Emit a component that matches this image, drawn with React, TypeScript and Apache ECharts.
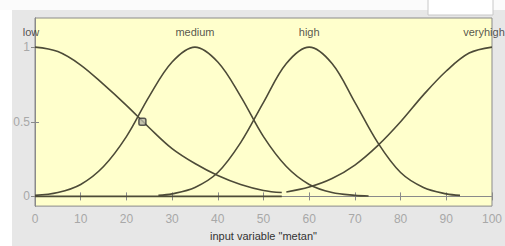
import React, { useEffect, useRef } from "react";
import * as echarts from "echarts";

const lowX = [0, 5, 10, 15, 20, 25, 30, 35, 40, 45, 50, 54];
const lowY = [1, 0.97, 0.88, 0.75, 0.61, 0.46, 0.32, 0.22, 0.14, 0.08, 0.04, 0.026];
const medX = [0, 5, 10, 15, 20, 25, 30, 35, 40, 45, 50, 55, 60, 65, 70, 73];
const medY = [0.007, 0.026, 0.08, 0.2, 0.4, 0.67, 0.9, 1, 0.9, 0.67, 0.4, 0.2, 0.08, 0.026, 0.007, 0.003];
const highX = [27, 30, 35, 40, 45, 50, 55, 60, 65, 70, 75, 80, 85, 90, 93];
const highY = [0.007, 0.017, 0.06, 0.16, 0.36, 0.63, 0.89, 1, 0.89, 0.63, 0.36, 0.16, 0.06, 0.017, 0.007];
const vhX = [55, 60, 65, 70, 75, 80, 85, 90, 95, 100];
const vhY = [0.03, 0.063, 0.12, 0.21, 0.34, 0.5, 0.68, 0.84, 0.96, 1];
const baseX = [0, 54];
const baseY = [0, 0];
const mfNames = ["low", "medium", "high", "veryhigh"];
const mfCenters = [0, 35, 60, 100];
const labelLevel = 1.1;
const pointX = 23.5;
const pointY = 0.5;
const xTicks = [0, 10, 20, 30, 40, 50, 60, 70, 80, 90, 100];
const yTicks = [0, 0.5, 1];
const xTitle = 'input variable "metan"';

const pairs = (xs: number[], ys: number[]) => xs.map((x, i) => [x, ys[i]]);

export default function App() {
  const ref = useRef<HTMLDivElement>(null);
  useEffect(() => {
    if (!ref.current) return;
    const chart = echarts.init(ref.current, null, { renderer: "svg" });
    const lineColor = "#4d4b38";
    const font = "'Liberation Sans', Arial, sans-serif";
    const labelOffsets = [[-4, 0], [0, 0], [0, 0], [-8, 0]];
    const lineSeries = (name: string, xs: number[], ys: number[]) => ({
      type: "line",
      name,
      data: pairs(xs, ys),
      showSymbol: false,
      smooth: 0.35,
      lineStyle: { color: lineColor, width: 1.6 },
      xAxisIndex: 0,
      yAxisIndex: 0,
      z: 3,
    });
    chart.setOption({
      animation: false,
      backgroundColor: "#e7e7e7",
      graphic: [
        { type: "rect", shape: { x: 0, y: 0, width: 12, height: 246 }, style: { fill: "#ffffff" }, z: -10 },
        { type: "rect", shape: { x: 0, y: 0, width: 505, height: 10 }, style: { fill: "#fbfbfb" }, z: -10 },
        { type: "rect", shape: { x: 428, y: -2, width: 65, height: 17 }, style: { fill: "#ffffff", stroke: "#c8c8c8", lineWidth: 1 }, z: -9 },
      ],
      grid: {
        left: 35,
        right: 8,
        top: 18,
        bottom: 34,
        show: true,
        backgroundColor: "#ffffcc",
        borderColor: "#8a8a8a",
        borderWidth: 1,
      },
      xAxis: [
        {
          type: "value",
          min: 0,
          max: 100,
          interval: 10,
          position: "bottom",
          axisLine: { show: true, lineStyle: { color: "#8a8a8a" } },
          axisTick: { show: true, inside: true, length: 4, lineStyle: { color: "#8a8a8a" } },
          splitLine: { show: false },
          axisLabel: {
            show: true,
            color: "#a8a8a8",
            fontSize: 12,
            fontFamily: font,
            margin: 7,
            customValues: xTicks,
          },
          name: xTitle,
          nameLocation: "middle",
          nameGap: 22,
          nameTextStyle: { color: "#333", fontSize: 11, fontFamily: font },
        },
        {
          type: "value",
          min: 0,
          max: 100,
          interval: 10,
          position: "top",
          axisLine: { show: true, lineStyle: { color: "#8a8a8a" } },
          axisTick: { show: true, inside: true, length: 4, lineStyle: { color: "#8a8a8a" } },
          splitLine: { show: false },
          axisLabel: { show: false },
        },
      ],
      yAxis: [
        {
          type: "value",
          min: -0.065,
          max: 1.195,
          position: "left",
          axisLine: { show: true, lineStyle: { color: "#8a8a8a" } },
          axisTick: { show: true, inside: true, length: 4, customValues: yTicks, lineStyle: { color: "#8a8a8a" } },
          splitLine: { show: false },
          axisLabel: {
            show: true,
            color: "#a8a8a8",
            fontSize: 12,
            fontFamily: font,
            margin: 5,
            customValues: yTicks,
          },
        },
        {
          type: "value",
          min: -0.065,
          max: 1.195,
          position: "right",
          axisLine: { show: true, lineStyle: { color: "#8a8a8a" } },
          axisTick: { show: true, inside: true, length: 4, customValues: yTicks, lineStyle: { color: "#8a8a8a" } },
          splitLine: { show: false },
          axisLabel: { show: false },
        },
      ],
      series: [
        lineSeries("low", lowX, lowY),
        lineSeries("medium", medX, medY),
        lineSeries("high", highX, highY),
        lineSeries("veryhigh", vhX, vhY),
        {
          type: "line",
          name: "base",
          data: pairs(baseX, baseY),
          showSymbol: false,
          lineStyle: { color: lineColor, width: 1.6 },
          z: 3,
        },
        {
          type: "scatter",
          name: "labels",
          data: mfNames.map((n, i) => ({
            value: [mfCenters[i], labelLevel],
            name: n,
            label: { offset: labelOffsets[i] },
          })),
          symbolSize: 0,
          label: {
            show: true,
            position: "inside",
            formatter: (p: any) => p.name,
            color: "#2a2a2a",
            fontSize: 11,
            fontFamily: font,
          },
          silent: true,
          clip: false,
          z: 5,
        },
        {
          type: "scatter",
          name: "point",
          data: [[pointX, pointY]],
          symbol: "roundRect",
          symbolSize: 7,
          itemStyle: { color: "#b8b8a8", borderColor: "#333", borderWidth: 1.5 },
          z: 6,
        },
      ],
    });
    return () => chart.dispose();
  }, []);
  return (
    <div
      ref={ref}
      style={{ position: "fixed", left: 0, top: 0, width: 505, height: 246 }}
    />
  );
}
